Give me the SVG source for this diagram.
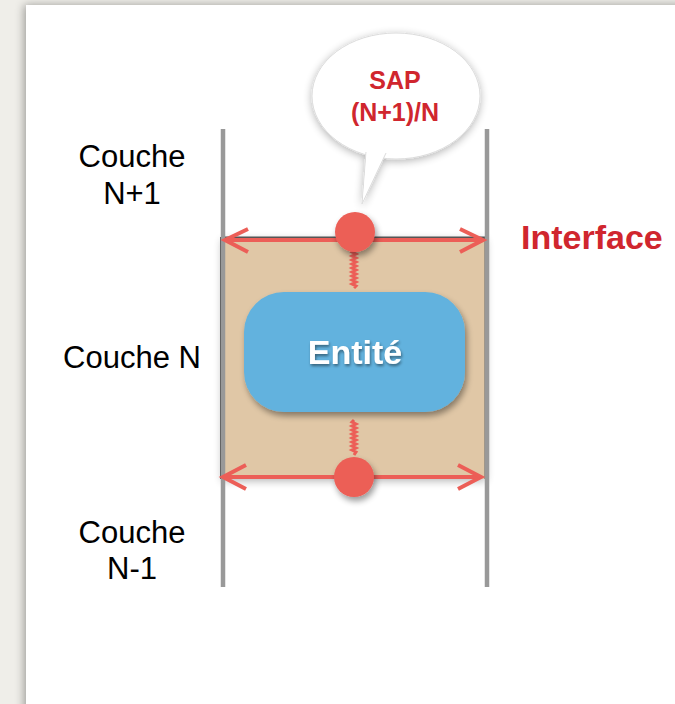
<svg xmlns="http://www.w3.org/2000/svg" width="675" height="704" viewBox="0 0 675 704">
<defs>
<style>
.lbl{font-family:"Liberation Sans",Arial,sans-serif;font-size:31px;fill:#000;text-anchor:middle}
.red{font-family:"Liberation Sans",Arial,sans-serif;font-weight:bold;fill:#d0262e}
.vline{stroke:#999;stroke-width:4.5}
.arrow{stroke:#ec5e57;stroke-width:4;fill:none;stroke-linecap:butt}
.sap{fill:#ec5e57}
.squig{stroke:#ec5e57;stroke-width:3;fill:none}
</style>
<filter id="pageSh" x="-10%" y="-10%" width="120%" height="120%">
<feGaussianBlur in="SourceAlpha" stdDeviation="5"/>
<feOffset dx="-2" dy="0"/>
<feComponentTransfer><feFuncA type="linear" slope="0.35"/></feComponentTransfer>
<feMerge><feMergeNode/><feMergeNode in="SourceGraphic"/></feMerge>
</filter>
<filter id="sh" x="-30%" y="-30%" width="160%" height="160%">
<feGaussianBlur in="SourceAlpha" stdDeviation="3"/>
<feOffset dx="2" dy="4"/>
<feComponentTransfer><feFuncA type="linear" slope="0.4"/></feComponentTransfer>
<feMerge><feMergeNode/><feMergeNode in="SourceGraphic"/></feMerge>
</filter>
<filter id="bsh" x="-30%" y="-30%" width="160%" height="160%">
<feGaussianBlur in="SourceAlpha" stdDeviation="4"/>
<feOffset dx="0" dy="2"/>
<feComponentTransfer><feFuncA type="linear" slope="0.3"/></feComponentTransfer>
<feMerge><feMergeNode/><feMergeNode in="SourceGraphic"/></feMerge>
</filter>
<filter id="tsh" x="-20%" y="-30%" width="140%" height="160%">
<feGaussianBlur in="SourceAlpha" stdDeviation="1.5"/>
<feOffset dx="1" dy="2"/>
<feComponentTransfer><feFuncA type="linear" slope="0.45"/></feComponentTransfer>
<feMerge><feMergeNode/><feMergeNode in="SourceGraphic"/></feMerge>
</filter>
</defs>

<rect x="0" y="0" width="675" height="704" fill="#efeee9"/>
<rect x="26" y="5" width="660" height="710" fill="#ffffff" filter="url(#pageSh)"/>

<g id="layer-box">
<rect x="222" y="238" width="264" height="241" fill="#e0c7a6" filter="url(#bsh)"/>
<line x1="222" y1="237" x2="222" y2="479" stroke="#555" stroke-width="4"/>
<line x1="486" y1="237" x2="486" y2="479" stroke="#666" stroke-width="3"/>
<line x1="222" y1="238" x2="486" y2="238" stroke="#555" stroke-width="3"/>
</g>

<g id="borders">
<line class="vline" x1="223" y1="129" x2="223" y2="587"/>
<line class="vline" x1="487" y1="129" x2="487" y2="587"/>
</g>

<g id="labels">
<text class="lbl" x="132" y="167">Couche</text>
<text class="lbl" x="132" y="204">N+1</text>
<text class="lbl" x="132" y="368">Couche N</text>
<text class="lbl" x="132" y="543">Couche</text>
<text class="lbl" x="132" y="579">N-1</text>
</g>

<g id="interface-label">
<text class="red" x="521" y="249" font-size="34">Interface</text>
</g>

<g id="connectors">
<path class="squig" d="M354,250 l-2,2 l4,2 l-4,2 l4,2 l-4,2 l4,2 l-4,2 l4,2 l-4,2 l4,2 l-4,2 l4,2 l-4,2 l4,2 l-4,2 l4,2 l-4,2 l4,2 l-2,2"/>
<path class="squig" d="M354,420 l-2,2 l4,2 l-4,2 l4,2 l-4,2 l4,2 l-4,2 l4,2 l-4,2 l4,2 l-4,2 l4,2 l-4,2 l4,2 l-4,2 l4,2 l-2,3"/>
<g id="arrow-top">
<line class="arrow" x1="226" y1="240" x2="483" y2="240"/>
<polyline class="arrow" points="248,229 225,240 248,252"/>
<polyline class="arrow" points="460,229 483,240 460,252"/>
</g>
<g id="arrow-bottom">
<line class="arrow" x1="224" y1="477" x2="481" y2="477"/>
<polyline class="arrow" points="246,465 223,477 246,489"/>
<polyline class="arrow" points="458,465 481,477 458,489"/>
</g>
</g>

<g id="entity">
<rect x="244" y="292" width="221" height="120" rx="40" ry="40" fill="#62b2de" filter="url(#sh)"/>
<text x="355" y="364" font-family="'Liberation Sans',Arial,sans-serif" font-weight="bold" font-size="34" fill="#ffffff" text-anchor="middle" filter="url(#tsh)">Entité</text>
</g>

<g id="sap-top">
<circle class="sap" cx="355" cy="232" r="20" filter="url(#sh)"/>
</g>
<g id="sap-bottom">
<circle class="sap" cx="354" cy="477" r="20" filter="url(#sh)"/>
</g>

<g id="bubble">
<g filter="url(#bsh)">
<ellipse cx="396" cy="96" rx="84" ry="63" fill="#ffffff" stroke="#dcdcdc" stroke-width="1"/>
<path d="M366,152 L362,204 L386,153" fill="#ffffff" stroke="#dcdcdc" stroke-width="1"/>
<path d="M367,150 L363,200 L385,151 Z" fill="#ffffff"/>
</g>
<text class="red" x="395" y="89" font-size="25" text-anchor="middle">SAP</text>
<text class="red" x="395" y="121" font-size="25" text-anchor="middle">(N+1)/N</text>
</g>
</svg>
